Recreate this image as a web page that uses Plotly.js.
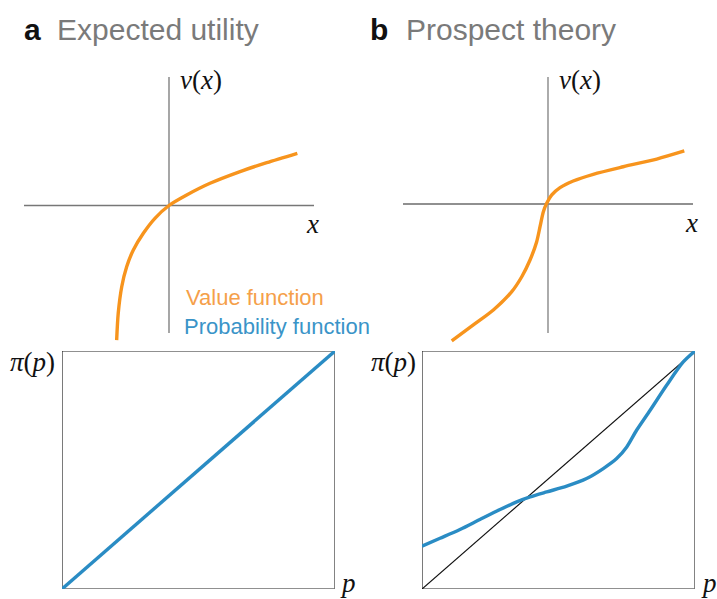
<!DOCTYPE html>
<html>
<head>
<meta charset="utf-8">
<script src="https://cdn.plot.ly/plotly-3.0.1.min.js"></script>
<style>html,body{margin:0;padding:0;background:#fff;}#chart{width:717px;height:599px;}</style>
</head>
<body>
<div id="chart"></div>
<script>
// Panel a (expected utility) value function
var euValueX = [-0.361, -0.350, -0.326, -0.292, -0.246, -0.177, -0.097, 0, 0.122, 0.283, 0.490, 0.674, 0.885];
var euValueY = [-0.989, -0.790, -0.597, -0.450, -0.327, -0.204, -0.094, 0, 0.077, 0.163, 0.249, 0.315, 0.384];
// Panel b (prospect theory) value function
var ptValueX = [-0.664, -0.515, -0.377, -0.250, -0.181, -0.124, -0.078, -0.055, -0.032, -0.009, 0.026, 0.083, 0.174, 0.312, 0.519, 0.750, 0.940];
var ptValueY = [-1.000, -0.883, -0.774, -0.640, -0.531, -0.409, -0.275, -0.166, -0.056, 0.005, 0.066, 0.119, 0.168, 0.217, 0.272, 0.328, 0.387];
// Probability functions
var euProbP = [0, 1];
var euProbPi = [0, 1];
var identityP = [0, 1];
var identityPi = [0, 1];
var ptProbP = [0, 0.066, 0.139, 0.212, 0.286, 0.347, 0.396, 0.457, 0.530, 0.603, 0.664, 0.713, 0.750, 0.786, 0.835, 0.896, 0.957, 1];
var ptProbPi = [0.180, 0.213, 0.250, 0.292, 0.334, 0.366, 0.387, 0.408, 0.432, 0.464, 0.506, 0.548, 0.597, 0.667, 0.750, 0.856, 0.954, 1];
// Labels
var panelLetters = ["a", "b"];
var panelTitles = ["Expected utility", "Prospect theory"];
var legendLabels = ["Value function", "Probability function"];

var W = 717, H = 599;
function px(x){ return x / W; }
function py(y){ return 1 - y / H; }

var ORANGE = "#f7941d", BLUE = "#2a8cc4";
function hidden(dom, rng){
  return {domain: dom, range: rng, visible: false, showgrid: false, zeroline: false, fixedrange: true};
}

var traces = [
  {x: euValueX, y: euValueY, xaxis: "x", yaxis: "y", mode: "lines", line: {color: ORANGE, width: 3.4, shape: "spline", smoothing: 0.8}},
  {x: ptValueX, y: ptValueY, xaxis: "x2", yaxis: "y2", mode: "lines", line: {color: ORANGE, width: 3.4, shape: "spline", smoothing: 0.8}},
  {x: euProbP, y: euProbPi, xaxis: "x3", yaxis: "y3", mode: "lines", line: {color: BLUE, width: 3.4}},
  {x: identityP, y: identityPi, xaxis: "x4", yaxis: "y4", mode: "lines", line: {color: "#111", width: 1.2}},
  {x: ptProbP, y: ptProbPi, xaxis: "x4", yaxis: "y4", mode: "lines", line: {color: BLUE, width: 3.4, shape: "spline", smoothing: 0.8}}
];

var shapes = [
  // panel a axes
  {type: "line", xref: "x", yref: "y", x0: -1, x1: 1, y0: 0, y1: 0, line: {color: "#777", width: 1.3}, layer: "below"},
  {type: "line", xref: "x", yref: "y", x0: 0, x1: 0, y0: -0.9375, y1: 0.945, line: {color: "#777", width: 1.3}, layer: "below"},
  // panel b axes
  {type: "line", xref: "x2", yref: "y2", x0: -1, x1: 1, y0: 0, y1: 0, line: {color: "#222", width: 1.2}, layer: "below"},
  {type: "line", xref: "x2", yref: "y2", x0: 0, x1: 0, y0: -0.942, y1: 0.927, line: {color: "#888", width: 1.4}, layer: "below"},
  // boxes
  {type: "rect", xref: "x3", yref: "y3", x0: 0, x1: 1, y0: 0, y1: 1, line: {color: "#222", width: 1.2}, layer: "below"},
  {type: "line", xref: "x3", yref: "y3", x0: 1, x1: 1, y0: 0, y1: 1, line: {color: "#888", width: 1.4}, layer: "below"},
  {type: "rect", xref: "x4", yref: "y4", x0: 0, x1: 1, y0: 0, y1: 1, line: {color: "#222", width: 1.2}, layer: "below"},
  {type: "line", xref: "x4", yref: "y4", x0: 1, x1: 1, y0: 0, y1: 1, line: {color: "#888", width: 1.4}, layer: "below"}
];

var serif = "Liberation Serif, Times New Roman, serif";
var sans = "Liberation Sans, Arial, Helvetica, sans-serif";
function ann(text, x, y, size, color, family, xanchor, extra){
  var a = {text: text, x: px(x), y: py(y), xref: "paper", yref: "paper", showarrow: false,
    xanchor: xanchor || "left", yanchor: "middle", font: {size: size, color: color, family: family}};
  if (extra) for (var k in extra) a[k] = extra[k];
  return a;
}
var annotations = [
  ann("<b>" + panelLetters[0] + "</b>", 22, 29, 30, "#111", sans),
  ann(panelTitles[0], 55, 29, 30, "#7a7a7a", sans),
  ann("<b>" + panelLetters[1] + "</b>", 368, 29, 30, "#111", sans),
  ann(panelTitles[1], 404, 29, 30, "#7a7a7a", sans),
  ann("<i>v</i>(<i>x</i>)", 201, 80, 27, "#111", serif, "center"),
  ann("<i>v</i>(<i>x</i>)", 580, 80, 27, "#111", serif, "center"),
  ann("<i>x</i>", 312, 224, 27, "#111", serif, "center"),
  ann("<i>x</i>", 691, 223, 27, "#111", serif, "center"),
  ann("<i>π</i>(<i>p</i>)", 32, 362, 27, "#111", serif, "center"),
  ann("<i>π</i>(<i>p</i>)", 393, 362, 27, "#111", serif, "center"),
  ann("<i>p</i>", 348, 583, 27, "#111", serif, "center"),
  ann("<i>p</i>", 709, 583, 27, "#111", serif, "center"),
  ann(legendLabels[0], 184, 297, 22, "#f5a04a", sans),
  ann(legendLabels[1], 182, 326, 22, "#3a94c8", sans)
];

var layout = {
  width: W, height: H, margin: {l: 0, r: 0, t: 0, b: 0},
  paper_bgcolor: "#fff", plot_bgcolor: "rgba(0,0,0,0)", showlegend: false,
  xaxis: hidden([px(24), px(314)], [-1, 1]),
  yaxis: hidden([py(345.5), py(65.5)], [-1.029, 1.029]),
  xaxis2: hidden([px(403), px(693)], [-1, 1]),
  yaxis2: hidden([py(344), py(64)], [-1.022, 1.022]),
  xaxis3: hidden([px(62), px(335)], [0, 1]),
  yaxis3: hidden([py(589), py(351)], [0, 1]),
  xaxis4: hidden([px(422), px(695)], [0, 1]),
  yaxis4: hidden([py(589), py(351)], [0, 1]),
  shapes: shapes, annotations: annotations
};

Plotly.newPlot("chart", traces, layout, {displayModeBar: false, staticPlot: true});
</script>
</body>
</html>
